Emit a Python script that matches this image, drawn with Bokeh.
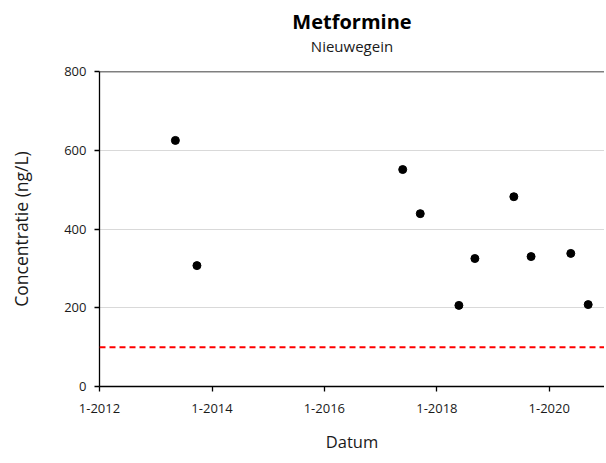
from datetime import datetime
from bokeh.plotting import figure
from bokeh.layouts import column
from bokeh.models import Span, FixedTicker, Range1d, ColumnDataSource
from bokeh.core.properties import value
from bokeh.embed import file_html
from bokeh.resources import INLINE

dates = [datetime(2013, 5, 8), datetime(2013, 9, 25), datetime(2017, 5, 24),
         datetime(2017, 9, 15), datetime(2018, 5, 24), datetime(2018, 9, 5),
         datetime(2019, 5, 16), datetime(2019, 9, 5), datetime(2020, 5, 20),
         datetime(2020, 9, 10)]
conc = [625, 307, 551, 439, 206, 325, 482, 330, 338, 208]
norm = 100
tick_years = [2012, 2014, 2016, 2018, 2020]
tick_labels = ["1-2012", "1-2014", "1-2016", "1-2018", "1-2020"]
title = "Metformine"
subtitle = "Nieuwegein"

FONT = "Open Sans"
W = 604
HEAD_H = 63
LEFT = 99

def ms(d):
    return (d - datetime(1970, 1, 1)).total_seconds() * 1000.0

xs = [ms(d) for d in dates]
tick_ms = [ms(datetime(y, 1, 1)) for y in tick_years]
x0, x1 = ms(datetime(2012, 1, 1)), ms(datetime(2020, 12, 25))
ymax = 800

# ---- header with title + subtitle, its frame aligned with the plot frame ----
head = figure(width=W, height=HEAD_H, output_backend="svg", toolbar_location=None,
              x_range=Range1d(0, 1), y_range=Range1d(HEAD_H, 0),
              x_axis_location=None, y_axis_location=None,
              min_border_left=LEFT, min_border_right=0, min_border_top=0,
              min_border_bottom=0)
head.outline_line_color = None
head.xgrid.grid_line_color = None
head.ygrid.grid_line_color = None
head.text(x=[0.5], y=[21], text=[title], text_align="center", text_baseline="middle",
          text_font=value(FONT), text_font_size=value("20px"), text_font_style="bold",
          text_color="black")
head.text(x=[0.5], y=[45], text=[subtitle], text_align="center", text_baseline="middle",
          text_font=value(FONT), text_font_size=value("15px"), text_color="#1a1a1a")

# ---- main plot ----
p = figure(width=W, height=463 - HEAD_H, output_backend="svg", toolbar_location=None,
           x_range=Range1d(x0, x1), y_range=Range1d(0, ymax),
           min_border_left=LEFT, min_border_right=0,
           min_border_bottom=77, min_border_top=8)
p.outline_line_color = None
p.background_fill_color = "white"

p.xaxis.ticker = FixedTicker(ticks=tick_ms)
p.xaxis.major_label_overrides = {t: l for t, l in zip(tick_ms, tick_labels)}
p.yaxis.ticker = FixedTicker(ticks=[0, 200, 400, 600, 800])

for ax in (p.xaxis, p.yaxis):
    ax.axis_line_color = "black"
    ax.axis_line_width = 1.3
    ax.major_tick_line_color = "black"
    ax.major_tick_line_width = 1.3
    ax.major_tick_out = 5
    ax.major_tick_in = 0
    ax.minor_tick_line_color = None
    ax.major_label_text_font = FONT
    ax.major_label_text_font_size = "13px"
    ax.major_label_text_color = "#1a1a1a"
    ax.axis_label_text_font = FONT
    ax.axis_label_text_font_size = "16.5px"
    ax.axis_label_text_font_style = "normal"
    ax.axis_label_text_color = "#1a1a1a"

p.yaxis.axis_label_text_font_size = "17.5px"
p.xaxis.axis_label = "Datum"
p.yaxis.axis_label = "Concentratie (ng/L)"
p.xaxis.major_label_standoff = 12
p.xaxis.axis_label_standoff = 14
p.yaxis.major_label_standoff = 8
p.yaxis.axis_label_standoff = 28

p.xgrid.grid_line_color = None
p.ygrid.grid_line_color = "#d9d9d9"
p.ygrid.grid_line_width = 1

p.add_layout(Span(location=ymax, dimension="width", line_color="black", line_width=1.5))
p.add_layout(Span(location=norm, dimension="width", line_color="red",
                  line_width=2, line_dash="6 4"))

src = ColumnDataSource(dict(x=xs, y=conc))
p.scatter("x", "y", source=src, size=8, color="black")

layout = column(head, p, spacing=0)
open("out.html", "w").write(file_html(layout, INLINE))
